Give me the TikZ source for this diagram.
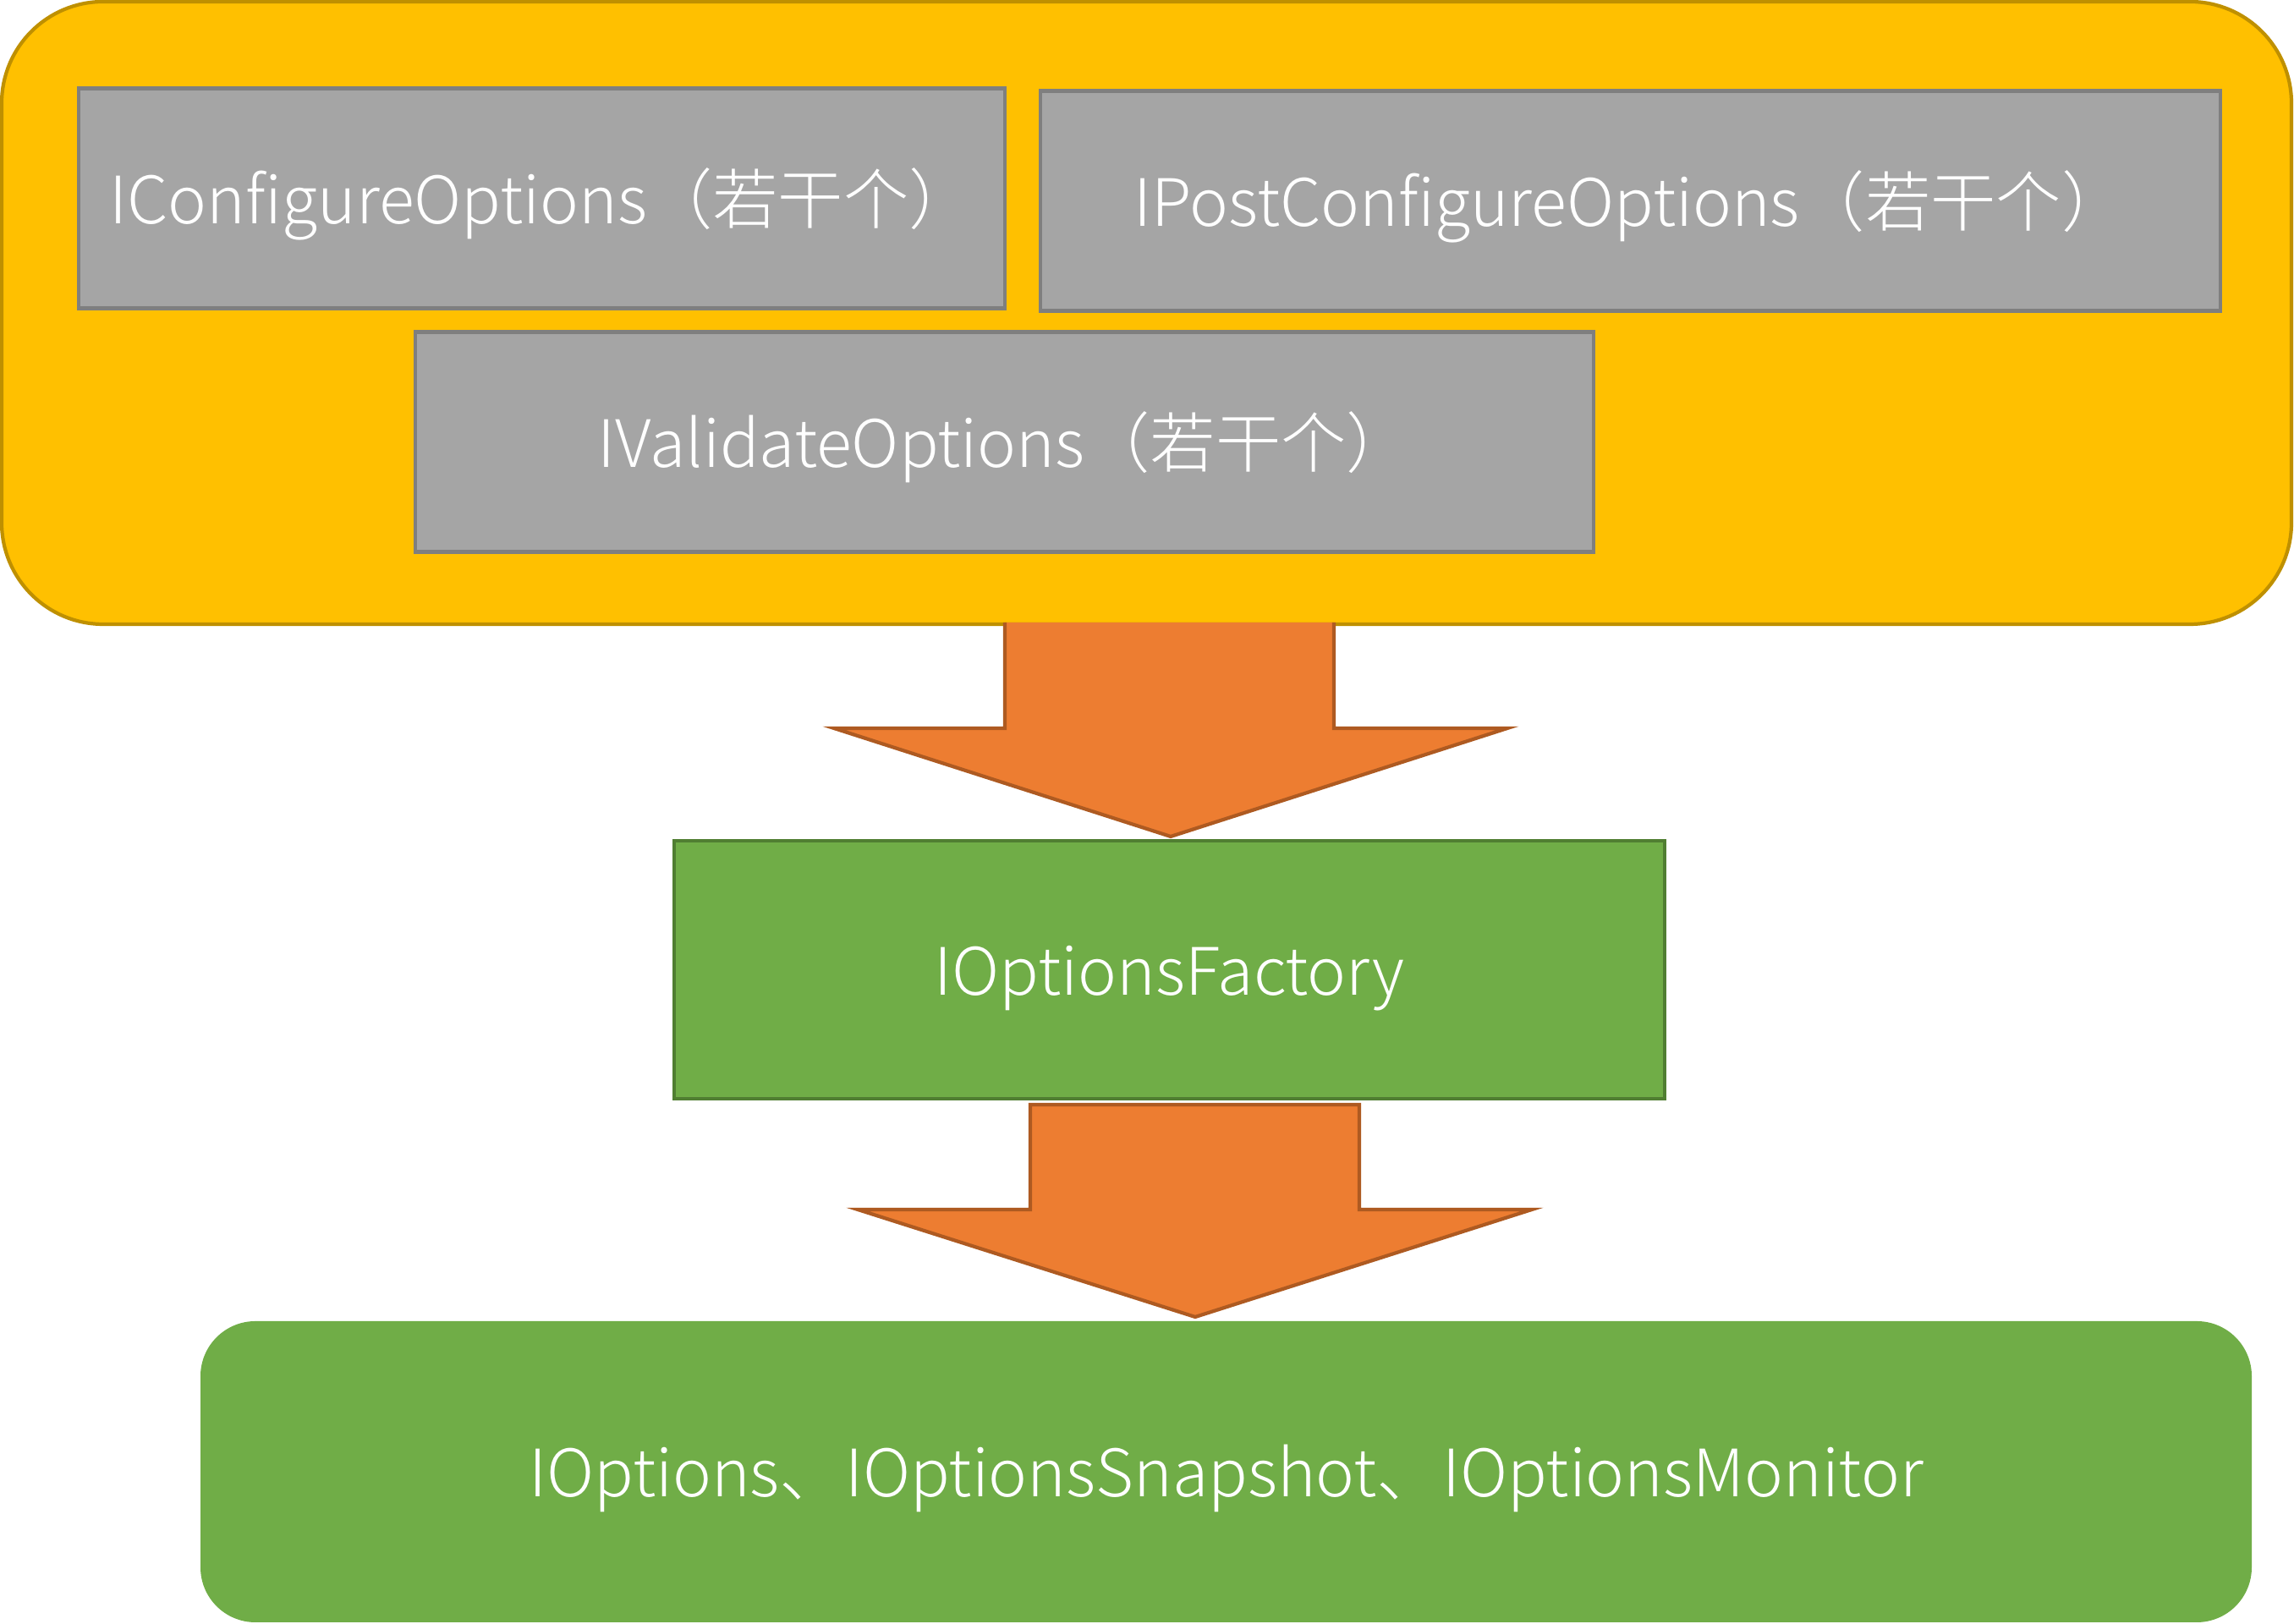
\documentclass[tikz,border=0pt]{standalone}
\usepackage{fontspec}
\newfontfamily\cjk{Noto Sans CJK SC Light}
\definecolor{gold}{HTML}{FFC000}
\definecolor{golddark}{HTML}{BF9000}
\definecolor{boxgray}{HTML}{A5A5A5}
\definecolor{boxgraydark}{HTML}{7F7F7F}
\definecolor{arroworange}{HTML}{ED7D31}
\definecolor{arroworangedark}{HTML}{AE5A21}
\definecolor{leafgreen}{HTML}{70AD47}
\definecolor{leafgreendark}{HTML}{507E32}

\begin{document}
\begin{tikzpicture}[
    every node/.style={font=\cjk\fontsize{22}{26}\selectfont, text=white, inner sep=0pt,
        text height=0.6cm, text depth=0pt},
    optbox/.style={draw=boxgraydark, fill=boxgray, line width=1.2pt, minimum height=2.6cm},
    bigarrow/.style={draw=arroworangedark, fill=arroworange, line width=1.2pt, line join=miter}
]
    \useasboundingbox (0,0) rectangle (27.12,19.2);
    \node[draw=golddark, fill=gold, line width=1.2pt, rounded corners=1.2cm,
        minimum width=27.07cm, minimum height=7.36cm] (outer) at (13.555,15.5) {};
    \node[optbox, minimum width=10.95cm] (configure) at (6.405,16.855)
        {IConfigureOptions（若干个）};
    \node[optbox, minimum width=13.95cm] (postconfigure) at (19.275,16.825)
        {IPostConfigureOptions（若干个）};
    \node[optbox, minimum width=13.93cm] (validate) at (11.875,13.975)
        {IValidateOptions（若干个）};
    \draw[bigarrow] (11.88,11.84) -- (11.88,10.59) -- (9.86,10.59) -- (13.84,9.31)
        -- (17.82,10.59) -- (15.77,10.59) -- (15.77,11.84);
    \node[draw=leafgreendark, fill=leafgreen, line width=1.2pt,
        minimum width=11.71cm, minimum height=3.05cm] (factory) at (13.825,7.735)
        {IOptionsFactory};
    \draw[bigarrow] (12.18,6.14) -- (12.18,4.90) -- (10.14,4.90) -- (14.13,3.63)
        -- (18.11,4.90) -- (16.07,4.90) -- (16.07,6.14) -- cycle;
    \node[fill=leafgreen, rounded corners=0.65cm,
        minimum width=24.25cm, minimum height=3.56cm] (options) at (14.495,1.8)
        {IOptions、IOptionsSnapshot、IOptionsMonitor};
\end{tikzpicture}
\end{document}
